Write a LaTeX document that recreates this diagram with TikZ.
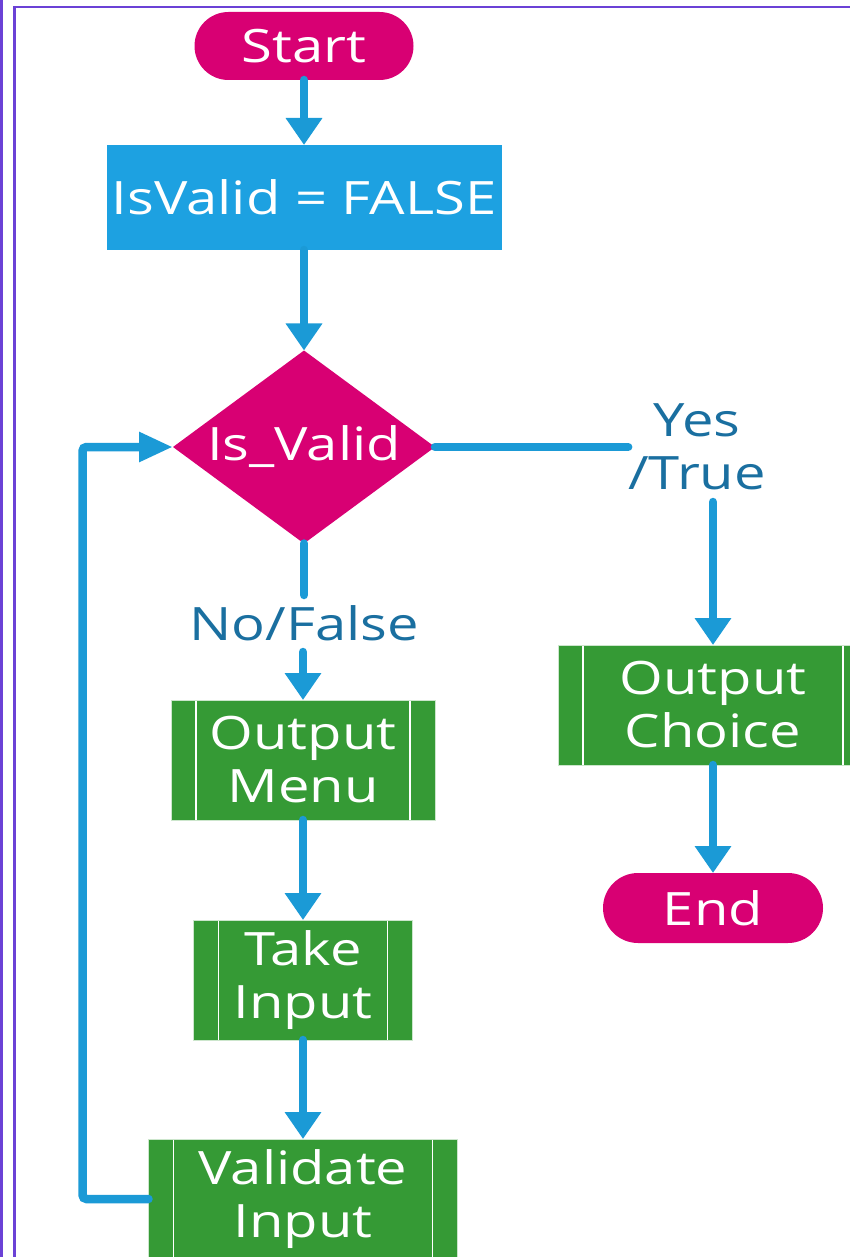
\documentclass[tikz,border=0pt]{standalone}
\usepackage{fontspec}
\setmainfont{Open Sans}[FakeStretch=1.22]
\usetikzlibrary{arrows.meta,shapes.geometric}

\definecolor{flowmag}{HTML}{D80073}
\definecolor{boxblue}{HTML}{1DA1E1}
\definecolor{flowgreen}{HTML}{359A35}
\definecolor{arrowblue}{HTML}{1B9AD6}
\definecolor{lblblue}{HTML}{1A6FA0}
\definecolor{framepurple}{HTML}{6B41D6}

\tikzset{
  terminal/.style={fill=flowmag, text=white, inner sep=0pt, outer sep=0pt},
  procbox/.style={fill=boxblue, text=white, inner sep=0pt, outer sep=0pt},
  decision/.style={diamond, aspect=1.357, fill=flowmag, text=white,
    inner sep=0pt, outer sep=0pt, minimum width=262pt, minimum height=193pt},
  subproc/.style={fill=flowgreen, text=white, inner sep=0pt, outer sep=0pt,
    align=center, minimum height=120pt, draw=white!75!flowgreen, line width=0.6pt,
    path picture={
      \draw[white, line width=1.3pt]
        ([xshift=25pt]path picture bounding box.north west) --
        ([xshift=25pt]path picture bounding box.south west)
        ([xshift=-25pt]path picture bounding box.north east) --
        ([xshift=-25pt]path picture bounding box.south east);}},
  flowline/.style={draw=arrowblue, line width=8.5pt, line cap=round},
  vtip/.style={-{Triangle[width=35pt,length=27pt]}},
  htip/.style={-{Triangle[width=28pt,length=34pt]}},
  lbl/.style={text=lblblue, inner sep=0pt, outer sep=0pt, align=center},
}

\begin{document}
\begin{tikzpicture}[x=1pt, y=-1pt, font=\fontsize{46}{53}\selectfont]
  \useasboundingbox (0,0) rectangle (850,1257);
  \clip (0,0) rectangle (850,1257);

  % page frame
  \draw[framepurple, line width=2.6pt] (1.3,0) -- (1.3,1257);
  \draw[framepurple, line width=2.6pt] (14.7,1270) -- (14.7,7) -- (870,7);

  % main column
  \node[terminal, rounded corners=34pt, minimum width=219pt, minimum height=68pt]
    (start) at (304,46) {Start};
  \node[procbox, minimum width=395pt, minimum height=105pt]
    (init) at (304,197.5) {IsValid = FALSE};
  \node[decision] (dec) at (304,447) {Is\_Valid};
  \node[subproc, minimum width=264pt] (menu) at (303,760) {Output\\Menu};
  \node[subproc, minimum width=219pt] (take) at (303,980) {Take\\Input};
  \node[subproc, minimum width=309pt] (valid) at (303,1199) {Validate\\Input};

  % right column
  \node[subproc, minimum width=310pt] (choice) at (713,705) {Output\\Choice};
  \node[terminal, rounded corners=35pt, minimum width=220pt, minimum height=70pt]
    (end) at (713,908) {End};

  % branch labels
  \node[lbl, minimum width=134pt, minimum height=110pt] (ylabel) at (697,447) {Yes\\/True};
  \node[lbl, minimum height=57pt] (nlabel) at (304,623.5) {No/False};

  % connectors
  \draw[flowline, vtip] (start) -- (init);
  \draw[flowline, vtip] (init) -- (dec);
  \draw[flowline] (dec.south) -- (nlabel.north);
  \draw[flowline, vtip] (nlabel.south -| menu.north) -- (menu.north);
  \draw[flowline, vtip] (menu) -- (take);
  \draw[flowline, vtip] (take) -- (valid);
  \draw[flowline, htip, rounded corners=4pt]
    (valid.west) -- ++(-66,0) |- (dec.west);
  \draw[flowline] (dec.east) -- (ylabel.west |- dec.east);
  \draw[flowline, vtip] (ylabel.south -| choice.north) -- (choice.north);
  \draw[flowline, vtip] (choice) -- (end);
\end{tikzpicture}
\end{document}
